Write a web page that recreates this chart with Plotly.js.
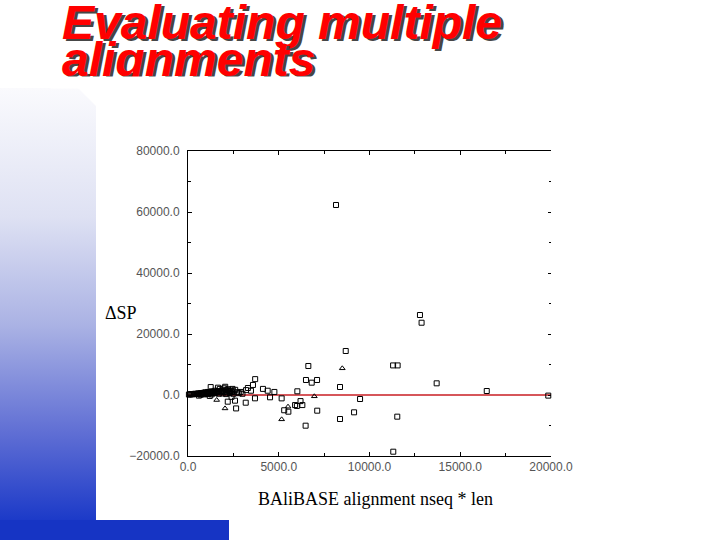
<!DOCTYPE html>
<html>
<head>
<meta charset="utf-8">
<script src="https://cdn.plot.ly/plotly-3.0.1.min.js"></script>
<style>html,body{margin:0;padding:0;background:#fff;}#chart{width:720px;height:540px;}</style>
</head>
<body>
<div id="chart"></div>
<script>
// ---- data ----
const titleLines = ["Evaluating multiple", "alignments"];
const xTitle = "BAliBASE alignment nseq * len";
const yTitle = "\u0394SP";
const xTickVals = [0, 5000, 10000, 15000, 20000];
const yTickVals = [-20000, 0, 20000, 40000, 60000, 80000];

// open-square markers
const sqX = [50, 100, 150, 200, 250, 300, 350, 400, 450, 500, 550, 600, 650, 700, 750, 800, 850, 900, 950, 1000, 1050, 1100, 1150, 1200, 1250, 1300, 1350, 1400, 1450, 1500, 1550, 1600, 1650, 1700, 1750, 1800, 1850, 1900, 1950, 2000, 2050, 2100, 2150, 2200, 2250, 2300, 2350, 2400, 2500, 2600, 2700, 2800, 2900, 3000,
  700, 900, 1100, 1300, 1500, 1700, 1900, 2100, 2300, 2500, 1250, 1650, 2050, 2450,
  600, 1200, 2400, 3200, 3300, 3470, 3580, 3700, 4130, 4390, 4760, 4520, 2190, 2590, 3180, 3690, 2650, 5160, 5530, 5300, 5900, 6200, 6300, 6000,
  6025, 6500, 6815, 7110, 6630, 8690, 8375, 9480, 7120, 9150, 11530, 8375, 6480, 11310, 11300, 11550, 13700, 16460, 19850, 8155, 12780, 12870];
const sqY = [150, 250, 200, 300, 250, 300, 350, 400, 300, 350, 500, 450, 400, 600, 500, 500, 700, 400, 900, 600, 700, 1000, 500, 900, 700, 1200, 600, 1100, 900, 1400, 800, 1000, 1300, 1200, 2000, 900, 1500, 1300, 1000, 2200, 1100, 1600, 800, 1900, 1300, 800, 1500, 1100, 1200, 1700, 900, 600, 1000, 400,
  100, 200, 300, 200, 600, 400, 500, 300, 600, 400, 2600, 2400, 2700, 2000,
  -200, -300, -600, 1600, 2300, 1400, 3300, 5200, 2000, 1400, 1000, -750, -2190, -1860, -2520, -1090, -4400, -1100, -5470, -5000, -3300, -2000, -3300, -3600,
  1210, 4920, 4040, 4920, 9510, 14430, 2620, -1310, -5140, -5680, -7100, -7870, -10060, -18590, 9700, 9700, 3830, 1310, -200, 62300, 26230, 23700];

// open-triangle markers
const triX = [1580, 2040, 8500, 6960, 5160, 5510];
const triY = [-1640, -4400, 8750, -430, -7980, -3830];

// background strip outline (page decoration, in pixel units of the page)
const stripX = [0, 78, 96, 96, 0, 0];
const stripY = [88, 88, 106, 520, 520, 88];

// ---- traces ----
const traces = [
  {
    x: stripX, y: stripY, xaxis: 'x2', yaxis: 'y2',
    mode: 'lines', fill: 'toself', line: {width: 0, color: 'rgba(0,0,0,0)'},
    fillcolor: 'rgb(150,160,222)',
    fillgradient: {
      type: 'vertical', start: 88, stop: 520,
      colorscale: [[0, 'rgb(250,250,253)'], [0.3, 'rgb(222,225,243)'], [0.55, 'rgb(170,178,228)'], [0.8, 'rgb(95,110,212)'], [1, 'rgb(28,58,200)']]
    },
    hoverinfo: 'skip', showlegend: false
  },
  {
    x: sqX, y: sqY, xaxis: 'x', yaxis: 'y', mode: 'markers', type: 'scatter',
    marker: {symbol: 'square-open', size: 5, color: '#000', line: {width: 1, color: '#000'}},
    showlegend: false, cliponaxis: false
  },
  {
    x: triX, y: triY, xaxis: 'x', yaxis: 'y', mode: 'markers', type: 'scatter',
    marker: {symbol: 'triangle-up-open', size: 5, color: '#000', line: {width: 1, color: '#000'}},
    showlegend: false, cliponaxis: false
  },
  {
    x: [0], y: [0], xaxis: 'x', yaxis: 'y3', mode: 'markers',
    marker: {opacity: 0}, hoverinfo: 'skip', showlegend: false
  }
];

const tickFont = {family: 'Liberation Sans, Arial, sans-serif', size: 12, color: '#555'};
const xDom = [188 / 720, 551 / 720];
const yDom = [(540 - 456) / 540, (540 - 151) / 540];

function shadowTitle(text, px, py, size) {
  const base = {
    xref: 'paper', yref: 'paper', xanchor: 'left', yanchor: 'middle', showarrow: false,
    text: '<b><i>' + text + '</i></b>'
  };
  return [
    Object.assign({}, base, {x: (px + 2.5) / 720, y: 1 - (py + 2.5) / 540,
      font: {family: 'Liberation Sans, Arial, sans-serif', size: size, color: 'rgb(70,70,70)'}}),
    Object.assign({}, base, {x: px / 720, y: 1 - py / 540,
      font: {family: 'Liberation Sans, Arial, sans-serif', size: size, color: 'rgb(255,0,0)'}})
  ];
}

const annotations = []
  .concat(shadowTitle(titleLines[0], 60, 22, 48))
  .concat(shadowTitle(titleLines[1], 60, 59, 48))
  .concat([
    {xref: 'paper', yref: 'paper', x: 50 / 720, y: 1 - 76 / 540, xanchor: 'left', yanchor: 'top',
     text: '\u00a0', showarrow: false, width: 300, height: 11, bgcolor: '#ffffff', borderpad: 0,
     font: {size: 6, color: '#ffffff'}},
    {xref: 'paper', yref: 'paper', x: 103 / 720, y: 1 - 313 / 540, xanchor: 'left', yanchor: 'middle',
     text: yTitle, showarrow: false, font: {family: 'Liberation Serif, Times New Roman, serif', size: 18, color: '#000'}},
    {xref: 'paper', yref: 'paper', x: 375 / 720, y: 1 - 499 / 540, xanchor: 'center', yanchor: 'middle',
     text: xTitle, showarrow: false, font: {family: 'Liberation Serif, Times New Roman, serif', size: 18, color: '#000'}}
  ]);

const layout = {
  width: 720, height: 540,
  margin: {l: 0, r: 0, t: 0, b: 0, pad: 0},
  paper_bgcolor: '#fff', plot_bgcolor: 'rgba(0,0,0,0)',
  showlegend: false,
  xaxis: {
    domain: xDom, range: [0, 20000], anchor: 'y',
    showline: true, linecolor: '#000', linewidth: 1, mirror: 'ticks',
    ticks: 'inside', ticklen: 4, tickcolor: '#000', tickvals: xTickVals, tickformat: '.1f',
    minor: {dtick: 2500, ticks: 'inside', ticklen: 3, tickcolor: '#000'},
    showgrid: false, zeroline: false, tickfont: tickFont
  },
  yaxis: {
    domain: yDom, range: [-20000, 80000], anchor: 'x',
    showline: true, linecolor: '#000', linewidth: 1, mirror: false,
    ticks: 'inside', ticklen: 4, tickcolor: '#000', tickvals: yTickVals, tickformat: '.1f',
    minor: {dtick: 10000, ticks: 'inside', ticklen: 3, tickcolor: '#000'},
    showgrid: false, zeroline: false, tickfont: tickFont, ticklabelstandoff: 5
  },
  yaxis3: {
    overlaying: 'y', side: 'right', anchor: 'x', range: [-20000, 80000],
    showline: false, ticks: 'inside', ticklen: 3, tickcolor: '#000', tickvals: yTickVals,
    minor: {dtick: 10000, ticks: 'inside', ticklen: 2, tickcolor: '#000'},
    showticklabels: false, showgrid: false, zeroline: false
  },
  xaxis2: {domain: [0, 1], range: [0, 720], anchor: 'y2', visible: false, fixedrange: true},
  yaxis2: {domain: [0, 1], range: [540, 0], anchor: 'x2', visible: false, fixedrange: true},
  shapes: [
    {type: 'rect', xref: 'paper', yref: 'paper', x0: 0, x1: 229 / 720, y0: 0, y1: 20 / 540,
     fillcolor: 'rgb(22,52,196)', line: {width: 0}, layer: 'below'},
    {type: 'line', xref: 'x', yref: 'y', x0: 0, x1: 20000, y0: 0, y1: 0,
     line: {color: 'rgb(200,30,35)', width: 1.5}, layer: 'below'}
  ],
  annotations: annotations
};

Plotly.newPlot('chart', traces, layout, {displayModeBar: false, staticPlot: true});
</script>
</body>
</html>
